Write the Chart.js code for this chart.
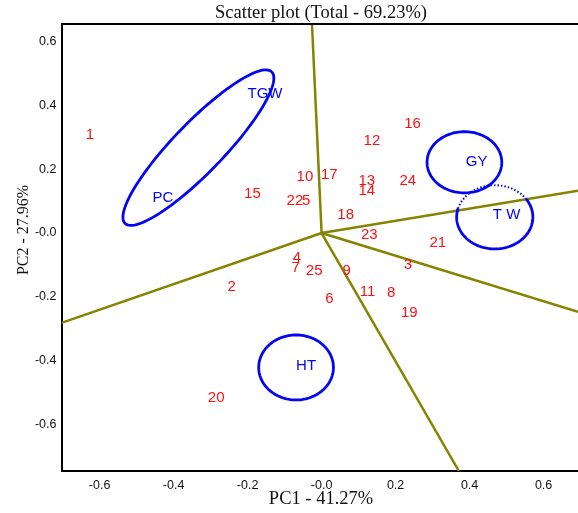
<!DOCTYPE html>
<html>
<head>
<meta charset="utf-8">
<title>Scatter plot (Total - 69.23%)</title>
<script src="https://cdn.jsdelivr.net/npm/chart.js@4.4.1/dist/chart.umd.min.js"></script>
<style>
  html, body { margin: 0; padding: 0; background: #fff; overflow: hidden; }
  canvas { display: block; }
</style>
</head>
<body>
<canvas id="biplot" width="578" height="513"></canvas>
<script>
// Genotypes (red numbers)
const genotypes = ['1','2','3','4','5','6','7','8','9','10','11','12','13','14','15','16','17','18','19','20','21','22','23','24','25'];
const pc1 = [-0.626, -0.243, 0.233, -0.067, -0.042, 0.021, -0.070, 0.188, 0.068, -0.045, 0.124, 0.136, 0.122, 0.122, -0.187, 0.246, 0.021, 0.065, 0.237, -0.285, 0.314, -0.072, 0.129, 0.233, -0.020];
const pc2 = [0.308, -0.169, -0.100, -0.079, 0.101, -0.207, -0.108, -0.189, -0.118, 0.175, -0.186, 0.290, 0.164, 0.133, 0.122, 0.344, 0.182, 0.057, -0.252, -0.516, -0.030, 0.101, -0.006, 0.164, -0.118];

// Traits (blue labels)
const traits = ['TGW', 'PC', 'GY', 'T W', 'HT'];
const traitX = [-0.153, -0.429, 0.419, 0.500, -0.042];
const traitY = [0.437, 0.109, 0.222, 0.057, -0.418];

// Sector lines from the origin, ends on the frame
const rayEndX = [-0.026, -0.703, 0.693, 0.693, 0.371];
const rayEndY = [0.656, -0.282, 0.133, -0.247, -0.747];

// Trait ellipses: centre and two conjugate half-axes (data units)
const ellipseCx = [-0.333, 0.386, 0.468, -0.069];
const ellipseCy = [0.268, 0.222, 0.050, -0.422];
const ellipseU = [[0.198, 0.238], [0.101, 0], [0.103, 0], [0.101, 0]];
const ellipseV = [[0.049, -0.054], [0, 0.096], [0, 0.100], [0, 0.102]];
const ellipseDotted = [null, null, [34, 164], null]; // TW: dotted upper arc (degrees)

const xTicks = [-0.6, -0.4, -0.2, 0, 0.2, 0.4, 0.6];
const yTicks = [-0.6, -0.4, -0.2, 0, 0.2, 0.4, 0.6];

const OLIVE = '#848400';
const BLUE = '#0505f2';
const RED = '#ff1010';

const fmt = v => Math.abs(v) < 1e-9 ? '-0.0' : v.toFixed(1);

const datasets = [];
rayEndX.forEach((ex, i) => {
    datasets.push({
        type: 'line',
        data: [{ x: 0, y: 0 }, { x: ex, y: rayEndY[i] }],
        borderColor: OLIVE,
        borderWidth: 2.5,
        pointRadius: 0,
        fill: false
    });
});
datasets.push({
    label: 'genotypes',
    data: pc1.map((x, i) => ({ x: x, y: pc2[i] })),
    pointRadius: 0,
    textLabels: genotypes,
    textColor: RED
});
datasets.push({
    label: 'traits',
    data: traitX.map((x, i) => ({ x: x, y: traitY[i] })),
    pointRadius: 0,
    textLabels: traits,
    textColor: BLUE
});

// draws ellipses, point labels, frame top, titles
const decor = {
    id: 'decor',
    afterDatasetsDraw(chart) {
        const ctx = chart.ctx;
        const xs = chart.scales.x, ys = chart.scales.y;
        const area = chart.chartArea;
        const px = (x, y) => [xs.getPixelForValue(x), ys.getPixelForValue(y)];

        ctx.save();
        ctx.beginPath();
        ctx.rect(area.left, area.top, area.right - area.left, area.bottom - area.top);
        ctx.clip();

        // ellipses
        ctx.strokeStyle = BLUE;
        ctx.lineWidth = 2.8;
        ellipseCx.forEach((cx, i) => {
            const u = ellipseU[i], v = ellipseV[i], cy = ellipseCy[i];
            const pt = t => px(cx + u[0] * Math.cos(t) + v[0] * Math.sin(t),
                               cy + u[1] * Math.cos(t) + v[1] * Math.sin(t));
            const arc = (a0, a1, dashed) => {
                ctx.setLineDash(dashed ? [1.5, 2] : []);
                ctx.lineWidth = dashed ? 2 : 2.8;
                ctx.beginPath();
                const n = 120;
                for (let k = 0; k <= n; k++) {
                    const t = (a0 + (a1 - a0) * k / n) * Math.PI / 180;
                    const p = pt(t);
                    if (k === 0) ctx.moveTo(p[0], p[1]); else ctx.lineTo(p[0], p[1]);
                }
                ctx.stroke();
            };
            const dot = ellipseDotted[i];
            if (dot) {
                arc(dot[1], dot[0] + 360, false);
                arc(dot[0], dot[1], true);
            } else {
                arc(0, 360, false);
            }
        });
        ctx.setLineDash([]);

        // text labels of scatter datasets
        ctx.textAlign = 'center';
        ctx.textBaseline = 'middle';
        ctx.font = '15px "Liberation Sans", Arial, sans-serif';
        chart.data.datasets.forEach((ds, di) => {
            if (!ds.textLabels) return;
            ctx.fillStyle = ds.textColor;
            chart.getDatasetMeta(di).data.forEach((el, j) => {
                ctx.fillText(ds.textLabels[j], el.x, el.y);
            });
        });
        ctx.restore();

        // top frame line
        ctx.save();
        ctx.strokeStyle = '#000';
        ctx.lineWidth = 2;
        ctx.beginPath();
        ctx.moveTo(area.left, area.top);
        ctx.lineTo(area.right, area.top);
        ctx.stroke();

        // titles
        ctx.fillStyle = '#111';
        ctx.textAlign = 'center';
        ctx.textBaseline = 'middle';
        ctx.font = '18.5px "Liberation Serif", "Times New Roman", serif';
        ctx.fillText('Scatter plot (Total - 69.23%)', 321, 13);
        ctx.font = '18.5px "Liberation Serif", "Times New Roman", serif';
        ctx.fillText('PC1 - 41.27%', 321, 499);
        ctx.translate(24, 230);
        ctx.rotate(-Math.PI / 2);
        ctx.font = '16px "Liberation Serif", "Times New Roman", serif';
        ctx.fillText('PC2 - 27.96%', 0, 0);
        ctx.restore();
    }
};

const tickFont = { family: '"Liberation Sans", Arial, sans-serif', size: 12.5 };

new Chart(document.getElementById('biplot'), {
    type: 'scatter',
    data: { datasets: datasets },
    options: {
        responsive: false,
        animation: false,
        layout: { padding: { top: 24, left: 0, right: 0, bottom: 0 } },
        plugins: {
            legend: { display: false },
            tooltip: { enabled: false }
        },
        scales: {
            x: {
                type: 'linear',
                min: -0.703,
                max: 0.693,
                grid: { display: false, drawTicks: false },
                border: { display: true, color: '#000', width: 2 },
                ticks: { font: tickFont, color: '#111', padding: 7, maxRotation: 0, callback: fmt },
                afterBuildTicks: s => { s.ticks = xTicks.map(v => ({ value: v })); },
                afterFit: s => { s.height = 42; }
            },
            y: {
                type: 'linear',
                min: -0.747,
                max: 0.656,
                grid: { display: false, drawTicks: false },
                border: { display: true, color: '#000', width: 2 },
                ticks: { font: tickFont, color: '#111', padding: 5, callback: fmt },
                afterBuildTicks: s => { s.ticks = yTicks.map(v => ({ value: v })); },
                afterFit: s => { s.width = 61.5; }
            }
        }
    },
    plugins: [decor]
});
</script>
</body>
</html>
